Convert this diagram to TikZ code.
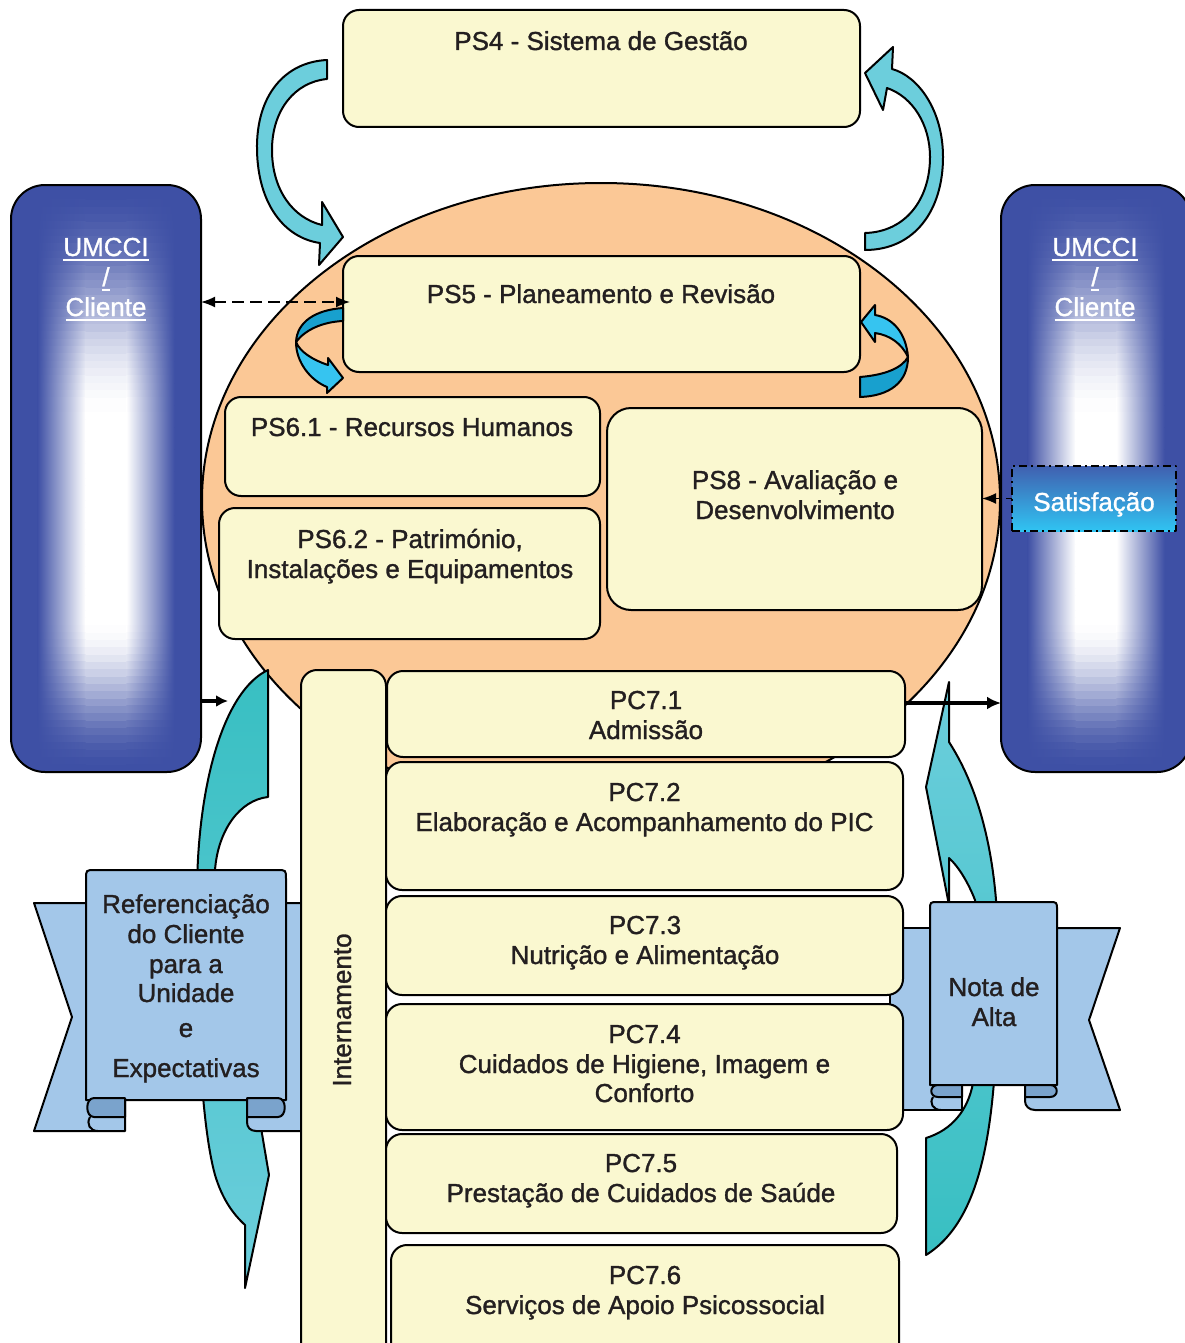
\documentclass[tikz,border=0pt]{standalone}
\usepackage{fontspec}
\setmainfont{Liberation Sans}[BoldFont={Liberation Sans}, BoldFeatures={FakeBold=1.2}]
\usetikzlibrary{arrows.meta}

\definecolor{boxfill}{RGB}{250,248,208}
\definecolor{peach}{RGB}{251,200,150}
\definecolor{colblue}{RGB}{62,80,165}
\definecolor{tealdark}{RGB}{56,191,194}
\definecolor{teallight}{RGB}{108,206,220}
\definecolor{swirldark}{RGB}{24,160,206}
\definecolor{swirllight}{RGB}{54,196,240}
\definecolor{ribbon}{RGB}{163,199,233}
\definecolor{ribbondark}{RGB}{122,163,204}
\definecolor{txtgray}{RGB}{35,31,32}
\definecolor{satTop}{RGB}{64,96,176}
\definecolor{satBot}{RGB}{48,196,242}

% underlined white caption
\newcommand\wul[1]{\leavevmode\setbox0=\hbox{#1}\rlap{\rule[-2.4pt]{\wd0}{0.9pt}}\box0}
% rectangle node from its corner pixels
\newcommand\placebox[6]{\node[#1, minimum width={(#5-#3)*0.5pt}, minimum height={(#6-#4)*0.5pt}] (#2) at ({(#3+#5)/2},{(#4+#6)/2}) {};}
% blue column with a soft white core, built from thin horizontal slices
\newcommand\glowcolumn[4]{%
  \begin{scope}
  \clip[rounded corners=17pt] (#1,#3) rectangle (#2,#4);
  \fill[colblue] (#1,#3) rectangle (#2,#4);
  \pgfmathsetmacro\gxa{#1+0.14*(#2-#1)}
  \pgfmathsetmacro\gxb{#1+0.39*(#2-#1)}
  \pgfmathsetmacro\gxc{#1+0.61*(#2-#1)}
  \pgfmathsetmacro\gxd{#1+0.86*(#2-#1)}
  \pgfmathsetmacro\gh{(#4-#3)/80}
  \foreach \i in {0,...,79} {
    \pgfmathsetmacro\ya{#3+\i*\gh}
    \pgfmathsetmacro\yb{\ya+\gh+0.8}
    \pgfmathsetmacro\ym{\ya+\gh/2}
    \pgfmathsetmacro\ut{min(max((\ym-#3)/230,0),1)}
    \pgfmathsetmacro\ub{min(max((#4-\ym)/150,0),1)}
    \pgfmathtruncatemacro\gg{100*min(3*\ut*\ut-2*\ut*\ut*\ut, 3*\ub*\ub-2*\ub*\ub*\ub)}
    \shade[left color=colblue, right color=white!\gg!colblue] (\gxa,\ya) rectangle (\gxb+0.5,\yb);
    \fill[white!\gg!colblue] (\gxb,\ya) rectangle (\gxc,\yb);
    \shade[left color=white!\gg!colblue, right color=colblue] (\gxc-0.5,\ya) rectangle (\gxd,\yb);
  }
  \end{scope}}

\begin{document}
\begin{tikzpicture}[x=0.5pt,y=-0.5pt, line join=round,
  pbox/.style={draw=black, line width=1pt, fill=boxfill, rounded corners=8pt, inner sep=0pt, outer sep=0pt},
  bigbox/.style={pbox, rounded corners=12pt},
  colbox/.style={draw=black, line width=1pt, rounded corners=17pt, inner sep=0pt, outer sep=0pt},
  satbox/.style={draw=black, line width=0.8pt, dash pattern=on 4pt off 2pt on 1pt off 2pt,
    top color=satTop, bottom color=satBot, inner sep=0pt, outer sep=0pt},
  txt/.style={font=\fontsize{13}{15}\selectfont\bfseries, text=txtgray, inner sep=0pt, anchor=base},
  wtxt/.style={txt, text=white},
  shapeline/.style={draw=black, line width=1pt, line join=round},
  tip/.style={-{Latex[length=7pt,width=5.5pt]}}]

\useasboundingbox (0,0) rectangle (1184,1343);

% core of the support processes
\draw[line width=1pt, fill=peach] (601,500) ellipse [x radius=399, y radius=317];

% loop arrows around PS4
\path[shapeline, fill=teallight] (327,60) .. controls (285,62) and (256,95) .. (257,150)
  .. controls (258,205) and (285,238) .. (320,243) -- (319,265) -- (343,237) -- (322,202) -- (322,225)
  .. controls (293,218) and (272,190) .. (272,150) .. controls (272,110) and (295,82) .. (327,79) -- cycle;
\path[shapeline, fill=teallight] (865,250) .. controls (915,250) and (943,210) .. (943,157)
  .. controls (943,110) and (918,76) .. (892,69) -- (893,47) -- (865,73) -- (883,110) -- (887,88)
  .. controls (913,97) and (930,125) .. (930,157) .. controls (930,200) and (905,232) .. (865,233) -- cycle;

% support process boxes
\placebox{pbox}{ps4}{343}{10}{860}{127}
\placebox{pbox}{ps5}{343}{256}{860}{372}
\placebox{pbox}{ps61}{225}{397}{600}{496}
\placebox{pbox}{ps62}{219}{508}{600}{639}
\placebox{bigbox}{ps8}{607}{408}{982}{610}

% small swirl arrows beside PS5
\path[shapeline, fill=swirldark] (343,308) .. controls (315,310) and (297,322) .. (296,342)
  .. controls (305,330) and (322,322) .. (343,321) -- cycle;
\path[shapeline, fill=swirllight] (296,342) .. controls (296,362) and (310,380) .. (327,387) -- (327,393)
  -- (343,378) -- (328,358) -- (328,365) .. controls (313,360) and (300,352) .. (296,342) -- cycle;
\path[shapeline, fill=swirllight] (875,315) .. controls (893,318) and (906,333) .. (908,357)
  .. controls (902,344) and (890,335) .. (875,333) -- (875,342) -- (861,322) -- (875,305) -- cycle;
\path[shapeline, fill=swirldark] (908,357) .. controls (908,382) and (890,396) .. (860,397) -- (860,377)
  .. controls (885,375) and (902,368) .. (908,357) -- cycle;

% client columns
\glowcolumn{11}{201}{185}{772}
\glowcolumn{1001}{1191}{185}{772}
\placebox{colbox}{lcol}{11}{185}{201}{772}
\placebox{colbox}{rcol}{1001}{185}{1191}{772}

% satisfaction feedback
\placebox{satbox}{sat}{1012}{466}{1176}{531}
\draw[line width=0.8pt, dashed, tip] (sat.west) -- (sat.west -| ps8.east);
\draw[line width=0.8pt, dash pattern=on 6pt off 3pt, {Latex[length=7pt,width=5.5pt]}-{Latex[length=7pt,width=5.5pt]}, shorten >=-3.5pt]
  (lcol.east |- 0,302) -- (ps5.west |- 0,302);

% big curved flow arrows
\path[shapeline, top color=tealdark, bottom color=teallight] (268,670) .. controls (225,690) and (198,780) .. (197,890)
  .. controls (196,1000) and (200,1120) .. (215,1175) .. controls (222,1198) and (232,1213) .. (245,1225)
  -- (245,1288) -- (269,1175) -- (258,1110) .. controls (240,1020) and (220,940) .. (215,870)
  .. controls (218,830) and (240,800) .. (268,797) -- cycle;
\path[shapeline, top color=teallight, bottom color=tealdark] (949,682) -- (949,742)
  .. controls (980,790) and (998,860) .. (998,950) .. controls (998,1100) and (990,1215) .. (926,1255)
  -- (926,1138) .. controls (952,1130) and (968,1110) .. (973,1083) .. controls (976,1010) and (978,940) .. (975,900)
  .. controls (968,882) and (958,866) .. (949,858) -- (949,905) -- (926,787) -- cycle;

% left ribbon
\path[shapeline, fill=ribbon] (34,903) -- (125,903) -- (125,1131) -- (34,1131) -- (72,1017) -- cycle;
\path[shapeline, fill=ribbon] (247,903) -- (310,903) -- (310,1131) -- (256,1131)
  .. controls (250,1131) and (247,1127) .. (247,1122) -- cycle;
\path[shapeline, fill=ribbon] (86,1100) -- (86,879) .. controls (86,870) .. (95,870) -- (277,870)
  .. controls (286,870) .. (286,879) -- (286,1100) -- cycle;
\path[shapeline, fill=ribbondark] (125,1098) -- (94,1098) .. controls (85,1098) and (85,1117) .. (94,1117) -- (125,1117) -- cycle;
\path[shapeline, fill=ribbondark] (247,1098) -- (278,1098) .. controls (287,1098) and (287,1117) .. (278,1117) -- (247,1117) -- cycle;
\draw[line width=1pt] (90,1117) .. controls (86,1124) and (90,1131) .. (98,1131);

% right ribbon
\path[shapeline, fill=ribbon] (890,928) -- (962,928) -- (962,1110) -- (890,1110) -- cycle;
\path[shapeline, fill=ribbon] (1025,928) -- (1120,928) -- (1089,1020) -- (1120,1110) -- (1035,1110)
  .. controls (1029,1110) and (1025,1106) .. (1025,1101) -- cycle;
\path[shapeline, fill=ribbon] (930,1085) -- (930,910) .. controls (930,902) .. (938,902) -- (1049,902)
  .. controls (1057,902) .. (1057,910) -- (1057,1085) -- cycle;
\path[shapeline, fill=ribbondark] (962,1085) -- (938,1085) .. controls (929,1085) and (929,1097) .. (938,1097) -- (962,1097) -- cycle;
\path[shapeline, fill=ribbondark] (1025,1085) -- (1050,1085) .. controls (1059,1085) and (1059,1097) .. (1050,1097) -- (1025,1097) -- cycle;
\draw[line width=1pt] (933,1097) .. controls (929,1103) and (933,1110) .. (941,1110);

% core processes
\placebox{pbox}{intern}{301}{670}{386}{1365}
\placebox{pbox}{pc71}{387}{671}{905}{757}
\placebox{pbox}{pc72}{386}{762}{903}{890}
\placebox{pbox}{pc73}{386}{896}{903}{995}
\placebox{pbox}{pc74}{386}{1004}{903}{1130}
\placebox{pbox}{pc75}{386}{1134}{897}{1233}
\placebox{pbox}{pc76}{391}{1245}{899}{1365}

% entry and exit arrows
\coordinate (entry) at (228,701);
\draw[line width=1.6pt, -{Latex[length=6pt,width=6pt]}] (lcol.east |- entry) -- (entry);
\draw[line width=1.6pt, -{Latex[length=7pt,width=6.5pt]}] (pc71.east |- 0,703) -- (rcol.west |- 0,703);

% captions
\node[txt] (ps4t) at (601,50) {PS4 - Sistema de Gestão};
\node[txt] (ps5t) at (601,303) {PS5 - Planeamento e Revisão};
\node[txt] (ps61t) at (412,436) {PS6.1 - Recursos Humanos};
\node[txt] (ps62a) at (410,548) {PS6.2 - Património,};
\node[txt] (ps62b) at (410,578) {Instalações e Equipamentos};
\node[txt] (ps8a) at (795,489) {PS8 - Avaliação e};
\node[txt] (ps8b) at (795,519) {Desenvolvimento};

\node[wtxt] (lcola) at (106,256) {\wul{UMCCI}};
\node[wtxt] (lcolb) at (106,286) {\wul{/}};
\node[wtxt] (lcolc) at (106,316) {\wul{Cliente}};
\node[wtxt] (rcola) at (1095,256) {\wul{UMCCI}};
\node[wtxt] (rcolb) at (1095,286) {\wul{/}};
\node[wtxt] (rcolc) at (1095,316) {\wul{Cliente}};
\node[wtxt] (satt) at (1094,511) {Satisfação};

\node[txt, rotate=90] (internt) at (351,1010) {Internamento};

\node[txt] (pc71a) at (646,709) {PC7.1};
\node[txt] (pc71b) at (646,739) {Admissão};
\node[txt] (pc72a) at (644.5,801) {PC7.2};
\node[txt] (pc72b) at (644.5,831) {Elaboração e Acompanhamento do PIC};
\node[txt] (pc73a) at (645,934) {PC7.3};
\node[txt] (pc73b) at (645,964) {Nutrição e Alimentação};
\node[txt] (pc74a) at (644.5,1043) {PC7.4};
\node[txt] (pc74b) at (644.5,1073) {Cuidados de Higiene, Imagem e};
\node[txt] (pc74c) at (644.5,1102) {Conforto};
\node[txt] (pc75a) at (641,1172) {PC7.5};
\node[txt] (pc75b) at (641,1202) {Prestação de Cuidados de Saúde};
\node[txt] (pc76a) at (645,1284) {PC7.6};
\node[txt] (pc76b) at (645,1314) {Serviços de Apoio Psicossocial};

\node[txt] (refa) at (186,913) {Referenciação};
\node[txt] (refb) at (186,943) {do Cliente};
\node[txt] (refc) at (186,973) {para a};
\node[txt] (refd) at (186,1002) {Unidade};
\node[txt] (refe) at (186,1037) {e};
\node[txt] (reff) at (186,1077) {Expectativas};

\node[txt] (altaa) at (994,996) {Nota de};
\node[txt] (altab) at (994,1026) {Alta};
\end{tikzpicture}
\end{document}
